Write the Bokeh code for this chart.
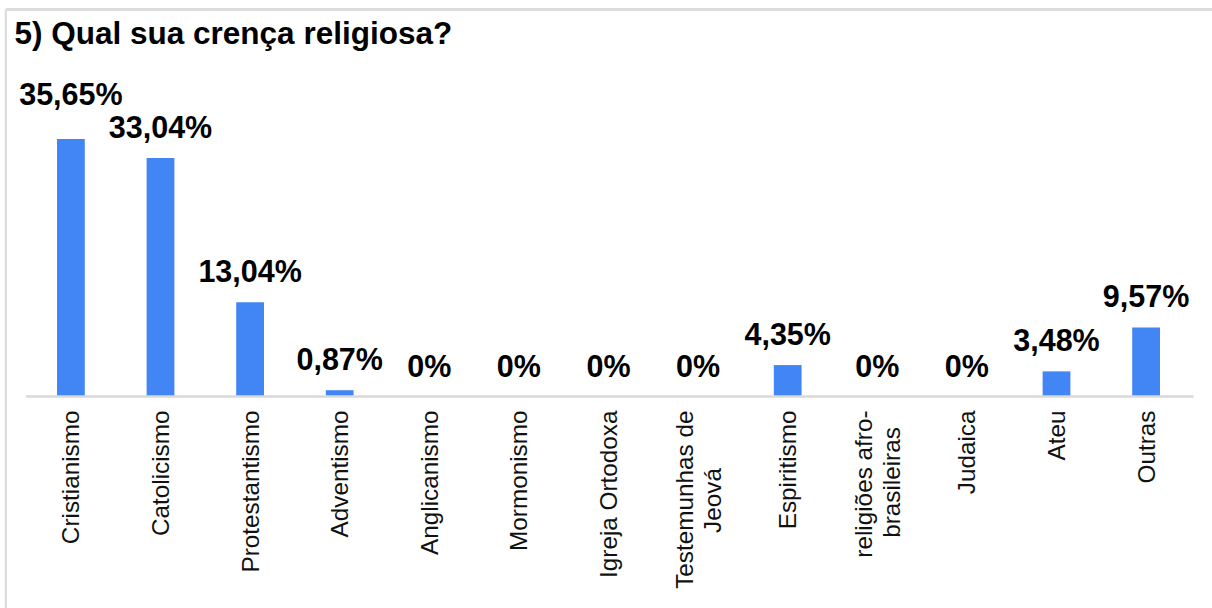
import math
from bokeh.plotting import figure
from bokeh.models import FactorRange, Range1d, Label, ColumnDataSource
from bokeh.core.properties import value
from bokeh.embed import file_html
from bokeh.resources import INLINE

# ---- data ----
title_text = "5) Qual sua crença religiosa?"
categories = ["Cristianismo", "Catolicismo", "Protestantismo", "Adventismo",
              "Anglicanismo", "Mormonismo", "Igreja Ortodoxa",
              "Testemunhas de Jeová", "Espiritismo",
              "religiões afro-brasileiras", "Judaica", "Ateu", "Outras"]
label_lines = [["Cristianismo"], ["Catolicismo"], ["Protestantismo"], ["Adventismo"],
               ["Anglicanismo"], ["Mormonismo"], ["Igreja Ortodoxa"],
               ["Testemunhas de", "Jeová"], ["Espiritismo"],
               ["religiões afro-", "brasileiras"], ["Judaica"], ["Ateu"], ["Outras"]]
values = [35.65, 33.04, 13.04, 0.87, 0, 0, 0, 0, 4.35, 0, 0, 3.48, 9.57]
value_labels = ["35,65%", "33,04%", "13,04%", "0,87%", "0%", "0%", "0%", "0%",
                "4,35%", "0%", "0%", "3,48%", "9,57%"]

# ---- layout ----
W, H = 1212, 608
LEFT = 4
px_per_unit = 7.22
base_px = 396
cat_px = 89.6
n = len(categories)
half_pad = ((W - LEFT) / cat_px - n) / 2   # padding applied on each side

FONT = "Liberation Sans"
BLUE = "#4285F4"
BORDER = "#dcdcdc"

p = figure(width=W, height=H, output_backend="svg", toolbar_location=None,
           x_range=FactorRange(factors=categories, range_padding=half_pad,
                               range_padding_units="absolute"),
           y_range=Range1d(-(H - base_px) / px_per_unit, base_px / px_per_unit),
           x_axis_location=None, y_axis_location=None, min_border=0,
           min_border_left=LEFT, tools="")
p.grid.visible = False
p.outline_line_color = None
p.background_fill_color = "white"
p.border_fill_color = "white"

# border lines of the card (decoration)
y_top_border = p.y_range.end - 9 / px_per_unit
x_left_border = -half_pad + 1.2 / cat_px
p.segment(x0=[x_left_border], x1=[n + half_pad], y0=[y_top_border], y1=[y_top_border],
          line_color=BORDER, line_width=3)
p.segment(x0=[x_left_border], x1=[x_left_border], y0=[y_top_border],
          y1=[p.y_range.start], line_color=BORDER, line_width=2.5)

# bars
src = ColumnDataSource(dict(cat=categories, val=values, lab=value_labels,
                            yoff=[-45 if i == 0 else -31 for i in range(n)]))
p.vbar(x="cat", top="val", bottom=0, width=0.31, source=src,
       fill_color=BLUE, line_color=None)

# baseline
p.segment(x0=[0], x1=[n + 0.03], y0=[0], y1=[0], line_color="#d9d9d9", line_width=2.5)

# value labels
p.text(x="cat", y="val", text="lab", source=src, y_offset="yoff",
       text_align="center", text_baseline="alphabetic",
       text_font=value(FONT), text_font_style="bold",
       text_font_size="30.5px", text_color="#000000")

# category labels (rotated)
first_cat, first_txt, first_xoff = [], [], []
second_cat, second_txt, second_yoff = [], [], []
second_center = {"Testemunhas de Jeová": 104, "religiões afro-brasileiras": 86}
for c, lines in zip(categories, label_lines):
    first_cat.append(c)
    first_txt.append(lines[0])
    first_xoff.append(-14 if len(lines) > 1 else 0)
    if len(lines) > 1:
        second_cat.append(c)
        second_txt.append(lines[1])
        second_yoff.append(second_center[c])

s1 = ColumnDataSource(dict(cat=first_cat, txt=first_txt, xoff=first_xoff,
                           y=[0] * len(first_cat)))
p.text(x="cat", y="y", text="txt", source=s1, x_offset="xoff", y_offset=14,
       angle=math.pi / 2, text_align="right", text_baseline="middle",
       text_font=value(FONT), text_font_size="24.3px", text_color="#111111")
s2 = ColumnDataSource(dict(cat=second_cat, txt=second_txt, yoff=second_yoff,
                           y=[0] * len(second_cat)))
p.text(x="cat", y="y", text="txt", source=s2, x_offset=14, y_offset="yoff",
       angle=math.pi / 2, text_align="center", text_baseline="middle",
       text_font=value(FONT), text_font_size="24.3px", text_color="#111111")

# title
p.add_layout(Label(x=-half_pad, y=p.y_range.end, x_offset=10, y_offset=-32,
                   text=title_text, text_font=FONT, text_font_style="bold",
                   text_font_size="31.5px", text_color="#000000",
                   text_baseline="alphabetic", text_align="left"))

open("out.html", "w").write(file_html(p, INLINE))
